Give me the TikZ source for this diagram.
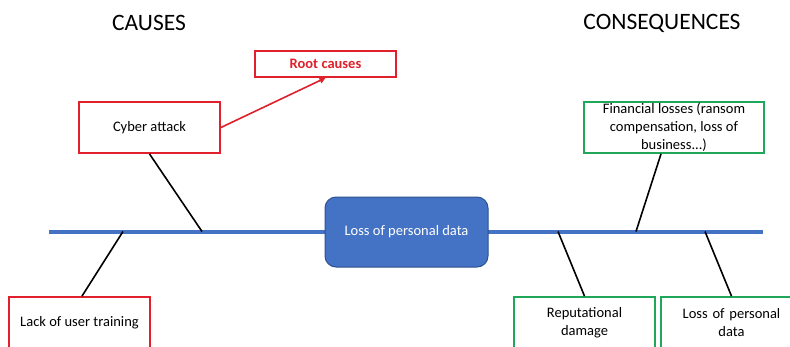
\documentclass[tikz,border=0pt]{standalone}
\usepackage{fontspec}
\setmainfont{Carlito}
\usetikzlibrary{arrows.meta}
\definecolor{cred}{HTML}{E0202B}
\definecolor{cgreen}{HTML}{1FA85A}
\definecolor{cblue}{HTML}{4472C4}
\definecolor{cblueb}{HTML}{2F528F}
\tikzset{
  redbox/.style={draw=cred,line width=1.8pt,fill=white,inner sep=0pt,align=center,font=\fontsize{14.5}{18}\selectfont},
  greenbox/.style={draw=cgreen,line width=1.8pt,fill=white,inner sep=0pt,align=center,font=\fontsize{14.5}{18}\selectfont},
  bone/.style={black,line width=1.6pt},
  title/.style={font=\fontsize{23.5}{28}\selectfont},
}
\begin{document}
\begin{tikzpicture}[x=1pt,y=-1pt]
\path[use as bounding box,clip] (0,0) rectangle (790,346);
\fill[white] (0,0) rectangle (790,346);
% titles
\node[title] (causes) at (149,23) {CAUSES};
\node[title] (conseq) at (662,23) {CONSEQUENCES};
% spine
\coordinate (sL) at (49,231.5);
\coordinate (sR) at (763,231.5);
\draw[cblue,line width=4pt] (sL) -- (sR);
% anchors on spine
\coordinate (p1) at (202,231.5);
\coordinate (p2) at (123,231.5);
\coordinate (p3) at (558,231.5);
\coordinate (p4) at (636,231.5);
\coordinate (p5) at (705,231.5);
% center
\node[draw=cblueb,line width=1pt,fill=cblue,rounded corners=11pt,minimum width=163pt,minimum height=70pt,text=white,font=\fontsize{14.5}{18}\selectfont] (center) at (406.5,232) {Loss of personal data};
% cause boxes
\node[redbox,minimum width=141pt,minimum height=51pt] (cyber) at (149.5,127.5) {Cyber attack};
\node[redbox,minimum width=141pt,minimum height=26pt,text=cred,font=\fontsize{14.5}{18}\selectfont\bfseries] (root) at (325.5,64) {Root causes};
\node[redbox,minimum width=141pt,minimum height=52pt] (lack) at (79.5,323) {Lack of user training};
% consequence boxes
\node[greenbox,minimum width=180pt,minimum height=51pt] (fin) at (674,127.5) {Financial losses (ransom\\compensation, loss of\\business...)};
\node[greenbox,minimum width=141pt,minimum height=52pt] (rep) at (584.5,323) {Reputational\\damage};
\node[greenbox,minimum width=141pt,minimum height=52pt,text width=141pt] (lpd) at (731.5,323) {Loss of personal\\data};
% bones
\draw[bone] (cyber.south) ++(0,0) coordinate (c1) (c1) -- (p1);
\draw[bone] (lack.north) ++(2.5,0) coordinate (c2) (c2) -- (p2);
\draw[bone] (rep.north) coordinate (c3) (c3) -- (p3);
\draw[bone] (fin.south) ++(-13,0) coordinate (c4) (c4) -- (p4);
\draw[bone] (lpd.north) coordinate (c5) (c5) -- (p5);
% arrow
\draw[cred,line width=1.6pt,-{Triangle[length=6pt,width=6pt]}] (cyber.east) -- (root.south);
\end{tikzpicture}
\end{document}
